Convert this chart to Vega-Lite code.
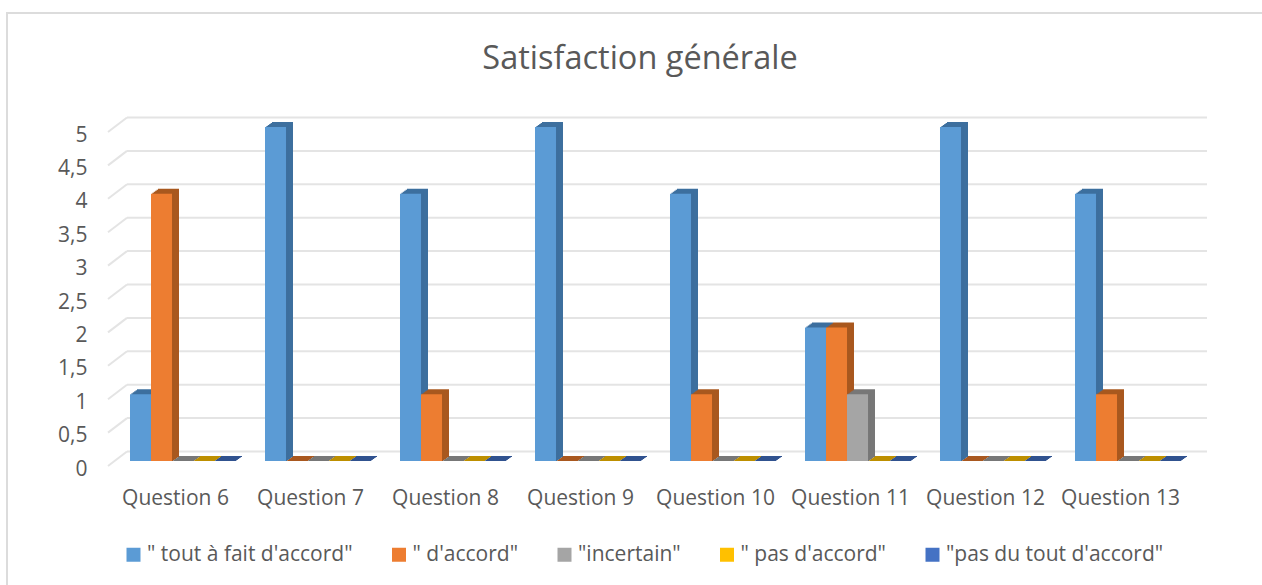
{
"$schema":"https://vega.github.io/schema/vega-lite/v6.json",
"width":1080,"height":334,
"autosize":{"type":"none"},
"padding":{"left":108,"top":132,"right":74,"bottom":119},
"background":"white",
"view":{"stroke":null},
"title":{"text":"Satisfaction générale","font":"Open Sans","fontSize":32.5,"fontWeight":"normal","color":"#595959","anchor":"middle","dx":-8,"offset":-64},
"config":{"font":"Open Sans"},
"datasets":{
"bars":[
{"q":"Question 6","s":"\" tout à fait d'accord\"","v":1},{"q":"Question 6","s":"\" d'accord\"","v":4},{"q":"Question 6","s":"\"incertain\"","v":0},{"q":"Question 6","s":"\" pas d'accord\"","v":0},{"q":"Question 6","s":"\"pas du tout d'accord\"","v":0},
{"q":"Question 7","s":"\" tout à fait d'accord\"","v":5},{"q":"Question 7","s":"\" d'accord\"","v":0},{"q":"Question 7","s":"\"incertain\"","v":0},{"q":"Question 7","s":"\" pas d'accord\"","v":0},{"q":"Question 7","s":"\"pas du tout d'accord\"","v":0},
{"q":"Question 8","s":"\" tout à fait d'accord\"","v":4},{"q":"Question 8","s":"\" d'accord\"","v":1},{"q":"Question 8","s":"\"incertain\"","v":0},{"q":"Question 8","s":"\" pas d'accord\"","v":0},{"q":"Question 8","s":"\"pas du tout d'accord\"","v":0},
{"q":"Question 9","s":"\" tout à fait d'accord\"","v":5},{"q":"Question 9","s":"\" d'accord\"","v":0},{"q":"Question 9","s":"\"incertain\"","v":0},{"q":"Question 9","s":"\" pas d'accord\"","v":0},{"q":"Question 9","s":"\"pas du tout d'accord\"","v":0},
{"q":"Question 10","s":"\" tout à fait d'accord\"","v":4},{"q":"Question 10","s":"\" d'accord\"","v":1},{"q":"Question 10","s":"\"incertain\"","v":0},{"q":"Question 10","s":"\" pas d'accord\"","v":0},{"q":"Question 10","s":"\"pas du tout d'accord\"","v":0},
{"q":"Question 11","s":"\" tout à fait d'accord\"","v":2},{"q":"Question 11","s":"\" d'accord\"","v":2},{"q":"Question 11","s":"\"incertain\"","v":1},{"q":"Question 11","s":"\" pas d'accord\"","v":0},{"q":"Question 11","s":"\"pas du tout d'accord\"","v":0},
{"q":"Question 12","s":"\" tout à fait d'accord\"","v":5},{"q":"Question 12","s":"\" d'accord\"","v":0},{"q":"Question 12","s":"\"incertain\"","v":0},{"q":"Question 12","s":"\" pas d'accord\"","v":0},{"q":"Question 12","s":"\"pas du tout d'accord\"","v":0},
{"q":"Question 13","s":"\" tout à fait d'accord\"","v":4},{"q":"Question 13","s":"\" d'accord\"","v":1},{"q":"Question 13","s":"\"incertain\"","v":0},{"q":"Question 13","s":"\" pas d'accord\"","v":0},{"q":"Question 13","s":"\"pas du tout d'accord\"","v":0}
],
"ticks":[{"t":0},{"t":0.5},{"t":1},{"t":1.5},{"t":2},{"t":2.5},{"t":3},{"t":3.5},{"t":4},{"t":4.5},{"t":5}]
},
"resolve":{"scale":{"color":"independent","x":"independent"},"axis":{"x":"independent","y":"independent"}},
"layer":[
{"data":{"name":"ticks"},"mark":{"type":"rule","color":"#e4e4e4","strokeWidth":2,"xOffset":4,"x2Offset":86.5,"yOffset":-14.5,"y2Offset":-14.5},
 "encoding":{"x":{"datum":"Question 6","bandPosition":0,"type":"nominal","title":null,"scale":{"domain":["Question 6","Question 7","Question 8","Question 9","Question 10","Question 11","Question 12","Question 13"],"paddingInner":0.2222,"paddingOuter":0.1111},"axis":null},"x2":{"datum":"Question 13"},"y":{"field":"t","type":"quantitative","scale":{"domain":[0,5]},"axis":{"title":null,"values":[0,0.5,1,1.5,2,2.5,3,3.5,4,4.5,5],"labelOverlap":false,"domain":false,"ticks":false,"grid":false,"labelFontSize":21,"labelColor":"#595959","labelPadding":21,"labelOffset":3,"labelExpr":"datum.value % 1 ? floor(datum.value) + ',5' : '' + datum.value"}},"y2":{"field":"t"}}},
{"data":{"name":"ticks"},"mark":{"type":"rule","color":"#e4e4e4","strokeWidth":2,"xOffset":-15,"x2Offset":-48.5,"y2Offset":-14.5},
 "encoding":{"x":{"datum":"Question 6","bandPosition":0,"type":"nominal","title":null,"scale":{"domain":["Question 6","Question 7","Question 8","Question 9","Question 10","Question 11","Question 12","Question 13"],"paddingInner":0.2222,"paddingOuter":0.1111},"axis":{"domain":false,"ticks":false,"labelAngle":0,"labelFontSize":21,"labelColor":"#595959","labelPadding":21,"grid":false}},"x2":{"datum":"Question 6"},"y":{"field":"t","type":"quantitative","axis":null},"y2":{"field":"t"}}},
{"data":{"values":[{"e":1}]},"mark":{"type":"rule","color":"#dcdcdc","strokeWidth":2,"xOffset":-116,"x2Offset":141.5,"yOffset":-119,"y2Offset":-119},
 "encoding":{"x":{"datum":"Question 6","bandPosition":0,"type":"nominal","scale":{"domain":["Question 6","Question 7","Question 8","Question 9","Question 10","Question 11","Question 12","Question 13"],"paddingInner":0.2222,"paddingOuter":0.1111},"axis":null},"x2":{"datum":"Question 13"},"y":{"datum":5,"type":"quantitative","axis":null},"y2":{"datum":5}}},
{"data":{"values":[{"e":1}]},"mark":{"type":"rule","color":"#dcdcdc","strokeWidth":2,"xOffset":-116,"yOffset":-120,"y2Offset":119},
 "encoding":{"x":{"datum":"Question 6","bandPosition":0,"type":"nominal","scale":{"domain":["Question 6","Question 7","Question 8","Question 9","Question 10","Question 11","Question 12","Question 13"],"paddingInner":0.2222,"paddingOuter":0.1111},"axis":null},"y":{"datum":5,"type":"quantitative","axis":null},"y2":{"datum":0}}},
{"data":{"name":"bars"},"mark":{"type":"bar","yOffset":-10,"y2Offset":-9},
 "encoding":{"x":{"field":"q","type":"nominal","axis":null,"scale":{"domain":["Question 6","Question 7","Question 8","Question 9","Question 10","Question 11","Question 12","Question 13"],"range":[14,1094],"paddingInner":0.2222,"paddingOuter":0.1111}},"xOffset":{"field":"s","sort":null},"y":{"field":"v","type":"quantitative","axis":null},"y2":{"datum":0},
  "color":{"field":"s","scale":{"domain":["\" tout à fait d'accord\"","\" d'accord\"","\"incertain\"","\" pas d'accord\"","\"pas du tout d'accord\""],"range":["#3d6f9e","#a9581f","#777777","#bd8f00","#30528f"]},"legend":null}}},
{"data":{"name":"bars"},"mark":{"type":"bar","yOffset":-9,"y2Offset":-8},
 "encoding":{"x":{"field":"q","type":"nominal","axis":null,"scale":{"domain":["Question 6","Question 7","Question 8","Question 9","Question 10","Question 11","Question 12","Question 13"],"range":[12.6,1092.6],"paddingInner":0.2222,"paddingOuter":0.1111}},"xOffset":{"field":"s","sort":null},"y":{"field":"v","type":"quantitative","axis":null},"y2":{"datum":0},
  "color":{"field":"s","scale":{"domain":["\" tout à fait d'accord\"","\" d'accord\"","\"incertain\"","\" pas d'accord\"","\"pas du tout d'accord\""],"range":["#3d6f9e","#a9581f","#777777","#bd8f00","#30528f"]},"legend":null}}},
{"data":{"name":"bars"},"mark":{"type":"bar","yOffset":-8,"y2Offset":-7},
 "encoding":{"x":{"field":"q","type":"nominal","axis":null,"scale":{"domain":["Question 6","Question 7","Question 8","Question 9","Question 10","Question 11","Question 12","Question 13"],"range":[11.2,1091.2],"paddingInner":0.2222,"paddingOuter":0.1111}},"xOffset":{"field":"s","sort":null},"y":{"field":"v","type":"quantitative","axis":null},"y2":{"datum":0},
  "color":{"field":"s","scale":{"domain":["\" tout à fait d'accord\"","\" d'accord\"","\"incertain\"","\" pas d'accord\"","\"pas du tout d'accord\""],"range":["#3d6f9e","#a9581f","#777777","#bd8f00","#30528f"]},"legend":null}}},
{"data":{"name":"bars"},"mark":{"type":"bar","yOffset":-7,"y2Offset":-6},
 "encoding":{"x":{"field":"q","type":"nominal","axis":null,"scale":{"domain":["Question 6","Question 7","Question 8","Question 9","Question 10","Question 11","Question 12","Question 13"],"range":[9.8,1089.8],"paddingInner":0.2222,"paddingOuter":0.1111}},"xOffset":{"field":"s","sort":null},"y":{"field":"v","type":"quantitative","axis":null},"y2":{"datum":0},
  "color":{"field":"s","scale":{"domain":["\" tout à fait d'accord\"","\" d'accord\"","\"incertain\"","\" pas d'accord\"","\"pas du tout d'accord\""],"range":["#3d6f9e","#a9581f","#777777","#bd8f00","#30528f"]},"legend":null}}},
{"data":{"name":"bars"},"mark":{"type":"bar","yOffset":-6,"y2Offset":-5},
 "encoding":{"x":{"field":"q","type":"nominal","axis":null,"scale":{"domain":["Question 6","Question 7","Question 8","Question 9","Question 10","Question 11","Question 12","Question 13"],"range":[8.4,1088.4],"paddingInner":0.2222,"paddingOuter":0.1111}},"xOffset":{"field":"s","sort":null},"y":{"field":"v","type":"quantitative","axis":null},"y2":{"datum":0},
  "color":{"field":"s","scale":{"domain":["\" tout à fait d'accord\"","\" d'accord\"","\"incertain\"","\" pas d'accord\"","\"pas du tout d'accord\""],"range":["#3d6f9e","#a9581f","#777777","#bd8f00","#30528f"]},"legend":null}}},
{"data":{"name":"bars"},"mark":{"type":"bar","yOffset":-5,"y2Offset":-5},
 "encoding":{"x":{"field":"q","type":"nominal","axis":null,"scale":{"domain":["Question 6","Question 7","Question 8","Question 9","Question 10","Question 11","Question 12","Question 13"],"range":[7,1087],"paddingInner":0.2222,"paddingOuter":0.1111}},"xOffset":{"field":"s","sort":null},"y":{"field":"v","type":"quantitative","axis":null},"y2":{"datum":0},
  "color":{"field":"s","title":null,"scale":{"domain":["\" tout à fait d'accord\"","\" d'accord\"","\"incertain\"","\" pas d'accord\"","\"pas du tout d'accord\""],"range":["#5b9bd5","#ed7d31","#a5a5a5","#ffc000","#4472c4"]},
  "legend":{"orient":"none","legendX":15,"legendY":412,"direction":"horizontal","columns":5,"columnPadding":35.5,"symbolType":"square","symbolSize":196,"symbolStrokeWidth":0,"labelFontSize":21,"labelColor":"#595959","labelOffset":3,"labelLimit":400}}}}
]
}
